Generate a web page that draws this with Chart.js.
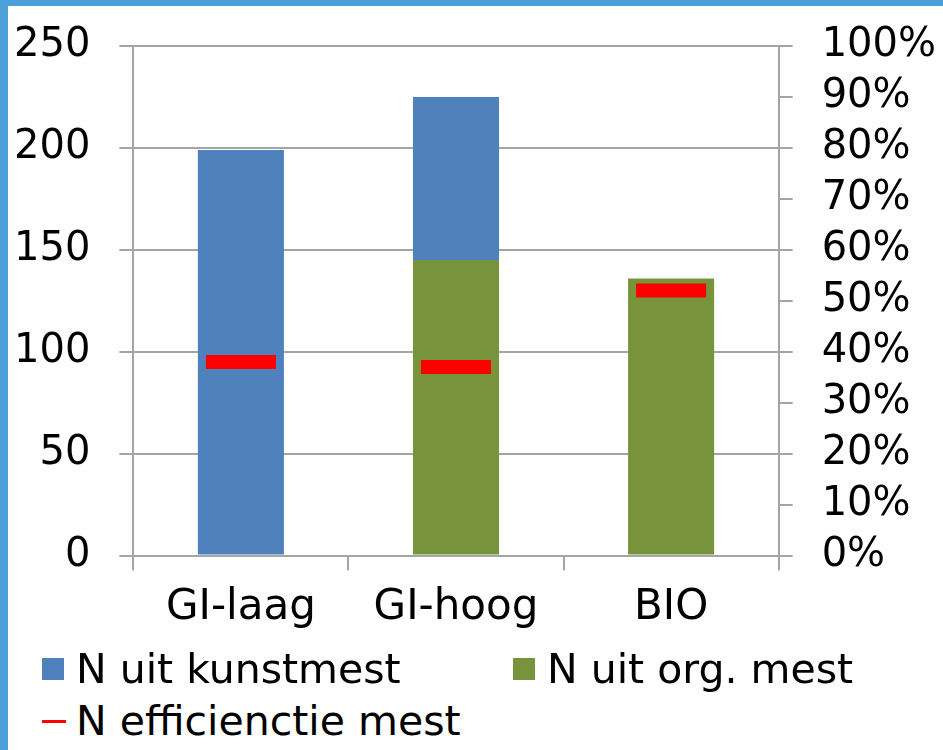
<!DOCTYPE html>
<html>
<head>
<meta charset="utf-8">
<script src="https://cdn.jsdelivr.net/npm/chart.js@4.4.1/dist/chart.umd.min.js"></script>
<style>
    html, body { margin: 0; padding: 0; background: #fff; }
    body { width: 943px; height: 750px; position: relative; overflow: hidden; font-family: "DejaVu Sans", sans-serif; }
    #frame-top { position: absolute; left: 0; top: 0; width: 943px; height: 6px; background: #4d9fd9; z-index: 2; }
    #frame-left { position: absolute; left: 0; top: 0; width: 8px; height: 750px; background: #4d9fd9; z-index: 2; }
    #chart-box { position: absolute; left: -21px; top: -7px; width: 993px; height: 654px; }
    .legend-item { position: absolute; display: flex; align-items: center; font-size: 41px; color: #000; white-space: nowrap; }
    .legend-item .mark { flex: none; }
</style>
</head>
<body>
<div id="frame-top"></div>
<div id="frame-left"></div>
<div id="chart-box"><canvas id="bar-chart"></canvas></div>
<div id="legend"></div>
<script>
const categories = ['GI-laag', 'GI-hoog', 'BIO'];
const nKunstmest = [199, 80, 0];
const nOrgMest = [0, 145, 136];
const nEfficiency = [38, 37, 52]; // percent, right axis

const blue = '#4f81bd';
const green = '#77933c';
const red = '#ff0000';
const gridGray = '#a5a5a5';

Chart.defaults.font.family = '"DejaVu Sans", sans-serif';
Chart.defaults.font.size = 40;
Chart.defaults.color = '#000';

const chart = new Chart(document.querySelector('#bar-chart'), {
    data: {
        labels: categories,
        datasets: [
            {
                label: 'N efficienctie mest',
                type: 'line',
                yAxisID: 'y2',
                data: nEfficiency,
                showLine: false,
                pointStyle: 'line',
                pointRadius: 35,
                pointHoverRadius: 35,
                pointBorderWidth: 14,
                pointHoverBorderWidth: 14,
                borderColor: red,
                backgroundColor: red,
                order: 0
            },
            {
                // stacked first -> sits at the bottom
                label: 'N uit org. mest',
                type: 'bar',
                yAxisID: 'y',
                data: nOrgMest,
                backgroundColor: green,
                order: 1
            },
            {
                label: 'N uit kunstmest',
                type: 'bar',
                yAxisID: 'y',
                data: nKunstmest,
                backgroundColor: blue,
                order: 2
            }
        ]
    },
    options: {
        responsive: true,
        maintainAspectRatio: false,
        animation: false,
        events: [],
        layout: {
            padding: {left: 6, right: 7, top: 26, bottom: 2}
        },
        datasets: {
            bar: {
                barPercentage: 0.4,
                categoryPercentage: 1.0
            }
        },
        plugins: {
            legend: {display: false},
            tooltip: {enabled: false}
        },
        scales: {
            x: {
                stacked: true,
                offset: true,
                grid: {
                    offset: true,
                    drawOnChartArea: false,
                    drawTicks: true,
                    tickLength: 15,
                    color: gridGray,
                    lineWidth: 2
                },
                border: {color: gridGray, width: 2},
                ticks: {padding: 12, font: {size: 42}}
            },
            y: {
                stacked: true,
                position: 'left',
                min: 0,
                max: 250,
                ticks: {stepSize: 50, padding: 29},
                grid: {
                    color: gridGray,
                    lineWidth: 2,
                    tickLength: 14
                },
                border: {color: gridGray, width: 2}
            },
            y2: {
                position: 'right',
                min: 0,
                max: 100,
                ticks: {
                    stepSize: 10,
                    autoSkip: false,
                    padding: 29,
                    callback: (value) => value + '%'
                },
                grid: {
                    drawOnChartArea: false,
                    color: gridGray,
                    lineWidth: 2,
                    tickLength: 14
                },
                border: {color: gridGray, width: 2}
            }
        }
    }
});

// legend laid out like the Excel original: two columns, wraps to a second row
const legendItems = [
    {label: chart.data.datasets[2].label, color: blue, kind: 'box', left: 42, top: 645},
    {label: chart.data.datasets[1].label, color: green, kind: 'box', left: 513, top: 645},
    {label: chart.data.datasets[0].label, color: red, kind: 'line', left: 42, top: 697}
];
const legend = document.querySelector('#legend');
legendItems.forEach(item => {
    const el = document.createElement('div');
    el.className = 'legend-item';
    el.style.left = item.left + 'px';
    el.style.top = item.top + 'px';
    const mark = document.createElement('span');
    mark.className = 'mark';
    if (item.kind === 'box') {
        mark.style.cssText = `width:22px;height:22px;background:${item.color};margin-right:12px;`;
    } else {
        mark.style.cssText = `width:24px;height:3px;background:${item.color};margin-right:10px;`;
    }
    const text = document.createElement('span');
    text.textContent = item.label;
    el.appendChild(mark);
    el.appendChild(text);
    legend.appendChild(el);
});
</script>
</body>
</html>
